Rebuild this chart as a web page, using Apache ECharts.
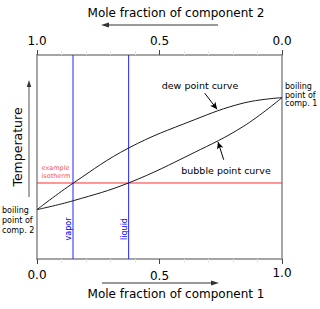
<!DOCTYPE html>
<html><head><meta charset="utf-8">
<script src="https://cdn.jsdelivr.net/npm/echarts@6/dist/echarts.min.js"></script>
<style>html,body{margin:0;padding:0;background:#fff}#c{width:320px;height:309px}</style>
</head><body><div id="c"></div>
<script>
// ---- data ----
const xTicks = [0, 0.5, 1];
const dewX = [0, 0.149, 0.374, 0.637, 0.841, 1];
const dewT = [0.242, 0.373, 0.544, 0.680, 0.764, 0.791];
const bubX = [0, 0.149, 0.374, 0.637, 0.841, 1];
const bubT = [0.242, 0.286, 0.373, 0.519, 0.649, 0.791];
const vaporX = 0.147;
const liquidX = 0.374;
const isoT = 0.3726;
const dewArrow = [[0.6845, 0.8127], [0.735, 0.734]];
const bubArrow = [[0.762, 0.4866], [0.7388, 0.574]];

const FONT = 'DejaVu Sans';
const zip = (a, b) => a.map((v, i) => [v, b[i]]);
const chart = echarts.init(document.getElementById('c'), null, {renderer: 'svg'});

function xAxisBase(pos) {
  return {
    type: 'value', position: pos, min: 0, max: 1, interval: 0.5,
    axisLine: {show: true, onZero: false, lineStyle: {color: '#888', width: 1.5}},
    axisTick: {show: true, length: 5, lineStyle: {color: '#444', width: 1}},
    minorTick: {show: true, splitNumber: 5, length: 4, lineStyle: {color: '#e6e6e6'}},
    splitLine: {show: false},
    axisLabel: {show: true, showMinLabel: true, showMaxLabel: true, fontSize: 12, fontFamily: FONT, color: '#000', margin: 8,
      formatter: v => v.toFixed(1)}
  };
}
const xBottom = xAxisBase('bottom');
xBottom.axisLabel.margin = 7;
xBottom.axisLabel.formatter = (v) => '{l' + xTicks.indexOf(v) + '|' + v.toFixed(1) + '}';
xBottom.axisLabel.rich = {
  l0: {fontSize: 12, fontFamily: FONT, color: '#000', lineHeight: 18},
  l1: {fontSize: 12, fontFamily: FONT, color: '#000', lineHeight: 20},
  l2: {fontSize: 12, fontFamily: FONT, color: '#000', lineHeight: 13}
};
const xTop = xAxisBase('top');
xTop.inverse = true;

function yAxisBase(pos) {
  return {
    type: 'value', position: pos, min: 0, max: 1,
    axisLine: {show: true, onZero: false, lineStyle: {color: '#888', width: 1.5}},
    axisTick: {show: false}, axisLabel: {show: false}, splitLine: {show: false}
  };
}

function lineSeries(data, color, extra) {
  return Object.assign({
    type: 'line', data: data, symbol: 'none', silent: true, animation: false,
    xAxisIndex: 0, yAxisIndex: 0,
    lineStyle: {color: color, width: 1}
  }, extra || {});
}

function arrowMark(pts) {
  return {
    silent: true, symbol: ['none', 'arrow'], symbolSize: [5, 7],
    label: {show: false},
    lineStyle: {color: '#000', width: 1, type: 'solid'},
    data: [[{coord: pts[0]}, {coord: pts[1]}]]
  };
}

function txt(x, y, text, size, color, align, vAlign, extra) {
  return Object.assign({
    type: 'text', x: x, y: y, silent: true,
    style: {text: text, fontSize: size, fontFamily: FONT, fill: color, align: align, verticalAlign: vAlign}
  }, extra || {});
}

const option = {
  animation: false,
  grid: {left: 37, right: 38, top: 55, bottom: 50},
  xAxis: [xBottom, xTop],
  yAxis: [yAxisBase('left'), yAxisBase('right')],
  series: [
    lineSeries([[0, isoT], [1, isoT]], '#ff2f2f'),
    lineSeries([[vaporX, 0], [vaporX, 1]], '#2323ff'),
    lineSeries([[liquidX, 0], [liquidX, 1]], '#2323ff'),
    lineSeries(zip(dewX, dewT), '#1a1a1a', {smooth: 0.4, markLine: arrowMark(dewArrow)}),
    lineSeries(zip(bubX, bubT), '#1a1a1a', {smooth: 0.4, markLine: arrowMark(bubArrow)})
  ],
  graphic: [
    txt(176, 13, 'Mole fraction of component 2', 12, '#000', 'center', 'middle'),
    txt(176, 294, 'Mole fraction of component 1', 12, '#000', 'center', 'middle'),
    {type: 'line', silent: true, shape: {x1: 106, y1: 25, x2: 218, y2: 25}, style: {stroke: '#777', lineWidth: 1.5}},
    {type: 'polygon', silent: true, shape: {points: [[101, 25], [109, 22.5], [109, 27.5]]}, style: {fill: '#333'}},
    {type: 'line', silent: true, shape: {x1: 102, y1: 283, x2: 214, y2: 283}, style: {stroke: '#777', lineWidth: 1.5}},
    {type: 'polygon', silent: true, shape: {points: [[219, 283], [211, 280.5], [211, 285.5]]}, style: {fill: '#333'}},
    txt(17, 147, 'Temperature', 12.5, '#000', 'center', 'middle', {rotation: Math.PI / 2}),
    {type: 'line', silent: true, shape: {x1: 29, y1: 197, x2: 29, y2: 85}, style: {stroke: '#555', lineWidth: 1}},
    {type: 'polygon', silent: true, shape: {points: [[29, 80], [26.8, 87], [31.2, 87]]}, style: {fill: '#333'}},
    {type: 'text', x: 41.5, y: 172, silent: true, style: {text: 'example\nisotherm', fontSize: 6.5, fontFamily: FONT, fill: '#ff5050', align: 'left', verticalAlign: 'middle', lineHeight: 8}},
    txt(68.5, 229, 'vapor', 8, '#0000ff', 'center', 'middle', {rotation: Math.PI / 2}),
    txt(124, 229, 'liquid', 8, '#0000ff', 'center', 'middle', {rotation: Math.PI / 2}),
    txt(200, 85, 'dew point curve', 9.5, '#000', 'center', 'middle'),
    txt(226, 170, 'bubble point curve', 9.5, '#000', 'center', 'middle'),
    {type: 'text', x: 2, y: 220, silent: true, style: {text: 'boiling\npoint of\ncomp. 2', fontSize: 8, fontFamily: FONT, fill: '#000', align: 'left', verticalAlign: 'middle', lineHeight: 10}},
    {type: 'text', x: 285, y: 95, silent: true, style: {text: 'boiling\npoint of\ncomp. 1', fontSize: 8, fontFamily: FONT, fill: '#000', align: 'left', verticalAlign: 'middle', lineHeight: 8.5}}
  ]
};
chart.setOption(option);
</script>
</body></html>
